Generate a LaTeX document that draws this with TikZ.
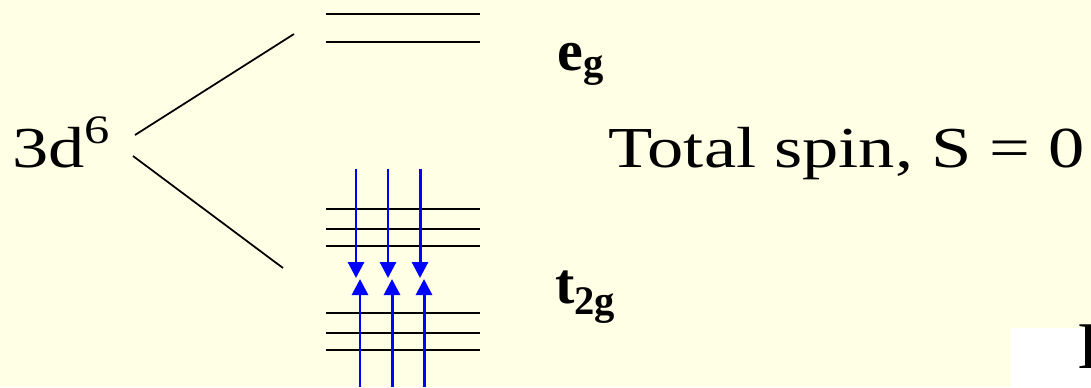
\documentclass[tikz,border=0pt]{standalone}
\usepackage{fontspec}
\setmainfont{Liberation Serif}
\newfontfamily\widefont[FakeStretch=1.25]{Liberation Serif}
\usetikzlibrary{arrows.meta,positioning}
\definecolor{slidebg}{RGB}{255,255,229}
\tikzset{
  levelline/.style={line width=1.2pt},
  splitline/.style={line width=1pt},
  spinarrow/.style={blue, line width=1.7pt, -{Triangle[length=0.32cm, width=0.32cm]}},
  biglabel/.style={anchor=base west, inner sep=0pt, font=\widefont\fontsize{33}{40}\selectfont},
  orbital/.style={anchor=base west, inner sep=0pt, font=\fontsize{33}{40}\selectfont\bfseries}
}

\begin{document}
\begin{tikzpicture}[x=0.02cm, y=-0.02cm]
    \fill[slidebg] (0,0) rectangle (1091,387);
    \useasboundingbox (0,0) rectangle (1091,387);
    \fill[white] (1011,328) rectangle (1091,387);
    % free ion and labels
    \node[biglabel] (free) at (12,167) {3d\raisebox{0.4em}{\fontsize{23}{28}\selectfont 6}};
    \node[orbital] (eg) at (557,70) {e\textsubscript{g}};
    \node[orbital] (tg) at (555,303) {t\textsubscript{2g}};
    \node[biglabel] (spin) at (608,167) {Total spin, S = 0};
    \node[biglabel, font=\fontsize{38}{44}\selectfont] (cut) at (1077,368) {I};
    % splitting
    \coordinate (egfoot) at (294,34);
    \coordinate (tgfoot) at (283,268);
    \draw[splitline] (135,135) -- (egfoot);
    \draw[splitline] (133,156) -- (tgfoot);
    \foreach \y in {14,42}
      \draw[levelline] (326,\y) -- (480,\y);
    \foreach \y in {209,229,246,313,333,350}
      \draw[levelline] (326,\y) -- (480,\y);
    % electrons
    \foreach \x in {356,388,420}
      \draw[spinarrow] (\x,169) -- (\x,278);
    \foreach \x in {360,392,424}
      \draw[spinarrow] (\x,387) -- (\x,279);
\end{tikzpicture}
\end{document}
